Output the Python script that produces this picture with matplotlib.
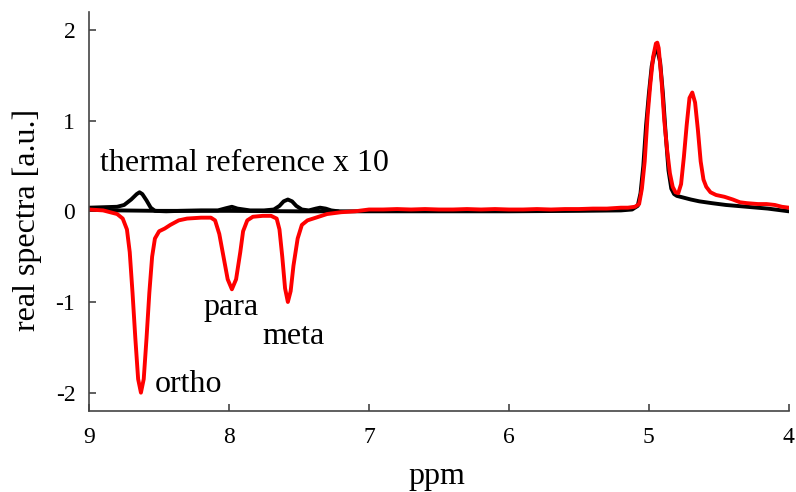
import matplotlib
matplotlib.use("Agg")
import matplotlib.pyplot as plt

plt.rcParams['font.family'] = ['Liberation Serif', 'DejaVu Serif']
plt.rcParams['axes.unicode_minus'] = False

# hyperpolarised spectrum (red)
hp_ppm = [9.00, 8.90, 8.80, 8.76, 8.73, 8.71, 8.69, 8.67, 8.65, 8.63, 8.61, 8.59,
          8.57, 8.55, 8.53, 8.50, 8.46, 8.42, 8.36, 8.30, 8.20, 8.13, 8.10, 8.07,
          8.04, 8.01, 7.98, 7.95, 7.92, 7.90, 7.87, 7.83, 7.76, 7.70, 7.66, 7.64,
          7.62, 7.60, 7.58, 7.56, 7.54, 7.51, 7.48, 7.44, 7.38, 7.30, 7.20, 7.10,
          7.00, 6.90, 6.80, 6.70, 6.60, 6.50, 6.40, 6.30, 6.20, 6.10, 6.00, 5.90,
          5.80, 5.70, 5.60, 5.50, 5.40, 5.30, 5.20, 5.15, 5.10, 5.07, 5.05, 5.03,
          5.01, 4.99, 4.97, 4.95, 4.94, 4.93, 4.91, 4.89, 4.87, 4.85, 4.83, 4.81,
          4.79, 4.77, 4.75, 4.73, 4.71, 4.69, 4.67, 4.65, 4.63, 4.61, 4.59, 4.56,
          4.52, 4.46, 4.40, 4.35, 4.30, 4.22, 4.16, 4.10, 4.05, 4.00]
hp_val = [0.02, 0.01, -0.03, -0.08, -0.20, -0.45, -0.90, -1.40, -1.85, -2.00, -1.85, -1.40,
          -0.90, -0.50, -0.30, -0.22, -0.19, -0.15, -0.10, -0.08, -0.07, -0.07, -0.10, -0.25,
          -0.50, -0.75, -0.86, -0.75, -0.45, -0.22, -0.10, -0.06, -0.05, -0.05, -0.08, -0.20,
          -0.50, -0.85, -1.00, -0.88, -0.60, -0.30, -0.15, -0.10, -0.07, -0.03, -0.01, 0.00,
          0.02, 0.02, 0.025, 0.02, 0.025, 0.02, 0.02, 0.025, 0.02, 0.025, 0.02, 0.02,
          0.025, 0.02, 0.025, 0.025, 0.03, 0.03, 0.04, 0.04, 0.05, 0.08, 0.25, 0.55,
          1.04, 1.40, 1.70, 1.85, 1.86, 1.80, 1.45, 1.00, 0.68, 0.42, 0.27, 0.21,
          0.20, 0.30, 0.60, 0.95, 1.25, 1.31, 1.20, 0.90, 0.55, 0.35, 0.27, 0.21,
          0.18, 0.16, 0.13, 0.10, 0.09, 0.08, 0.08, 0.07, 0.05, 0.04]

# thermal spectrum (black)
th_ppm = [9.00, 8.80, 8.50, 8.00, 7.50, 7.00, 6.00, 5.50, 5.20, 5.12, 5.08, 5.06,
          5.04, 5.02, 5.00, 4.98, 4.96, 4.94, 4.92, 4.90, 4.88, 4.86, 4.84, 4.82,
          4.80, 4.75, 4.70, 4.64, 4.55, 4.45, 4.30, 4.15, 4.00]
th_val = [0.02, 0.01, 0.005, 0.005, 0.00, 0.00, 0.00, 0.005, 0.01, 0.02, 0.06, 0.20,
          0.50, 0.95, 1.30, 1.60, 1.75, 1.78, 1.65, 1.30, 0.85, 0.45, 0.25, 0.19,
          0.17, 0.15, 0.13, 0.11, 0.09, 0.07, 0.05, 0.03, 0.00]

# thermal reference scaled x 10, aromatic region
th10_ppm = [9.00, 8.90, 8.80, 8.75, 8.70, 8.66, 8.64, 8.62, 8.59, 8.56, 8.53, 8.45,
            8.35, 8.20, 8.08, 8.02, 7.98, 7.94, 7.85, 7.75, 7.68, 7.64, 7.61, 7.58,
            7.55, 7.52, 7.48, 7.43, 7.38, 7.35, 7.31, 7.27, 7.22]
th10_val = [0.04, 0.045, 0.05, 0.07, 0.13, 0.19, 0.21, 0.19, 0.12, 0.04, 0.005, 0.00,
            0.005, 0.01, 0.01, 0.035, 0.05, 0.03, 0.01, 0.01, 0.02, 0.06, 0.11, 0.13,
            0.11, 0.06, 0.02, 0.01, 0.03, 0.04, 0.03, 0.01, 0.00]

fig = plt.figure(figsize=(7.96, 4.92), dpi=100)
ax = fig.add_axes([0.112, 0.165, 0.879, 0.811])

line_kw = dict(lw=2.8, solid_joinstyle='round', solid_capstyle='round')
ax.plot(th10_ppm, th10_val, color='black', **line_kw)
ax.plot(th_ppm, th_val, color='black', **line_kw)
ax.plot(hp_ppm, hp_val, color='#ff0000', **line_kw)

ax.text(8.921, 0.44, 'thermal reference x 10', fontsize=23, va='baseline')
ax.text(8.186, -1.143, 'para', fontsize=23, va='baseline')
ax.text(7.764, -1.46, 'meta', fontsize=23, va='baseline')
ax.text(8.529, -1.99, 'ortho', fontsize=23, va='baseline')

ax.set_xlim(9, 4)
ax.set_ylim(-2.2, 2.2)
ax.set_xticks([9, 8, 7, 6, 5, 4])
ax.set_yticks([-2, -1, 0, 1, 2])

for s in ['top', 'right']:
    ax.spines[s].set_visible(False)
for s in ['left', 'bottom']:
    ax.spines[s].set_color('#444444')
    ax.spines[s].set_linewidth(1.2)
ax.tick_params(direction='in', length=5, width=1.2, color='#444444', labelsize=17)
ax.tick_params(axis='y', pad=10)
ax.tick_params(axis='x', pad=12)

ax.set_xlabel('ppm', fontsize=23, va='center')
ax.xaxis.set_label_coords(0.497, -0.165)
ax.set_ylabel('real spectra [a.u.]', fontsize=23, va='center')
ax.yaxis.set_label_coords(-0.0886, 0.479)

fig.savefig('out.png', dpi=100)
